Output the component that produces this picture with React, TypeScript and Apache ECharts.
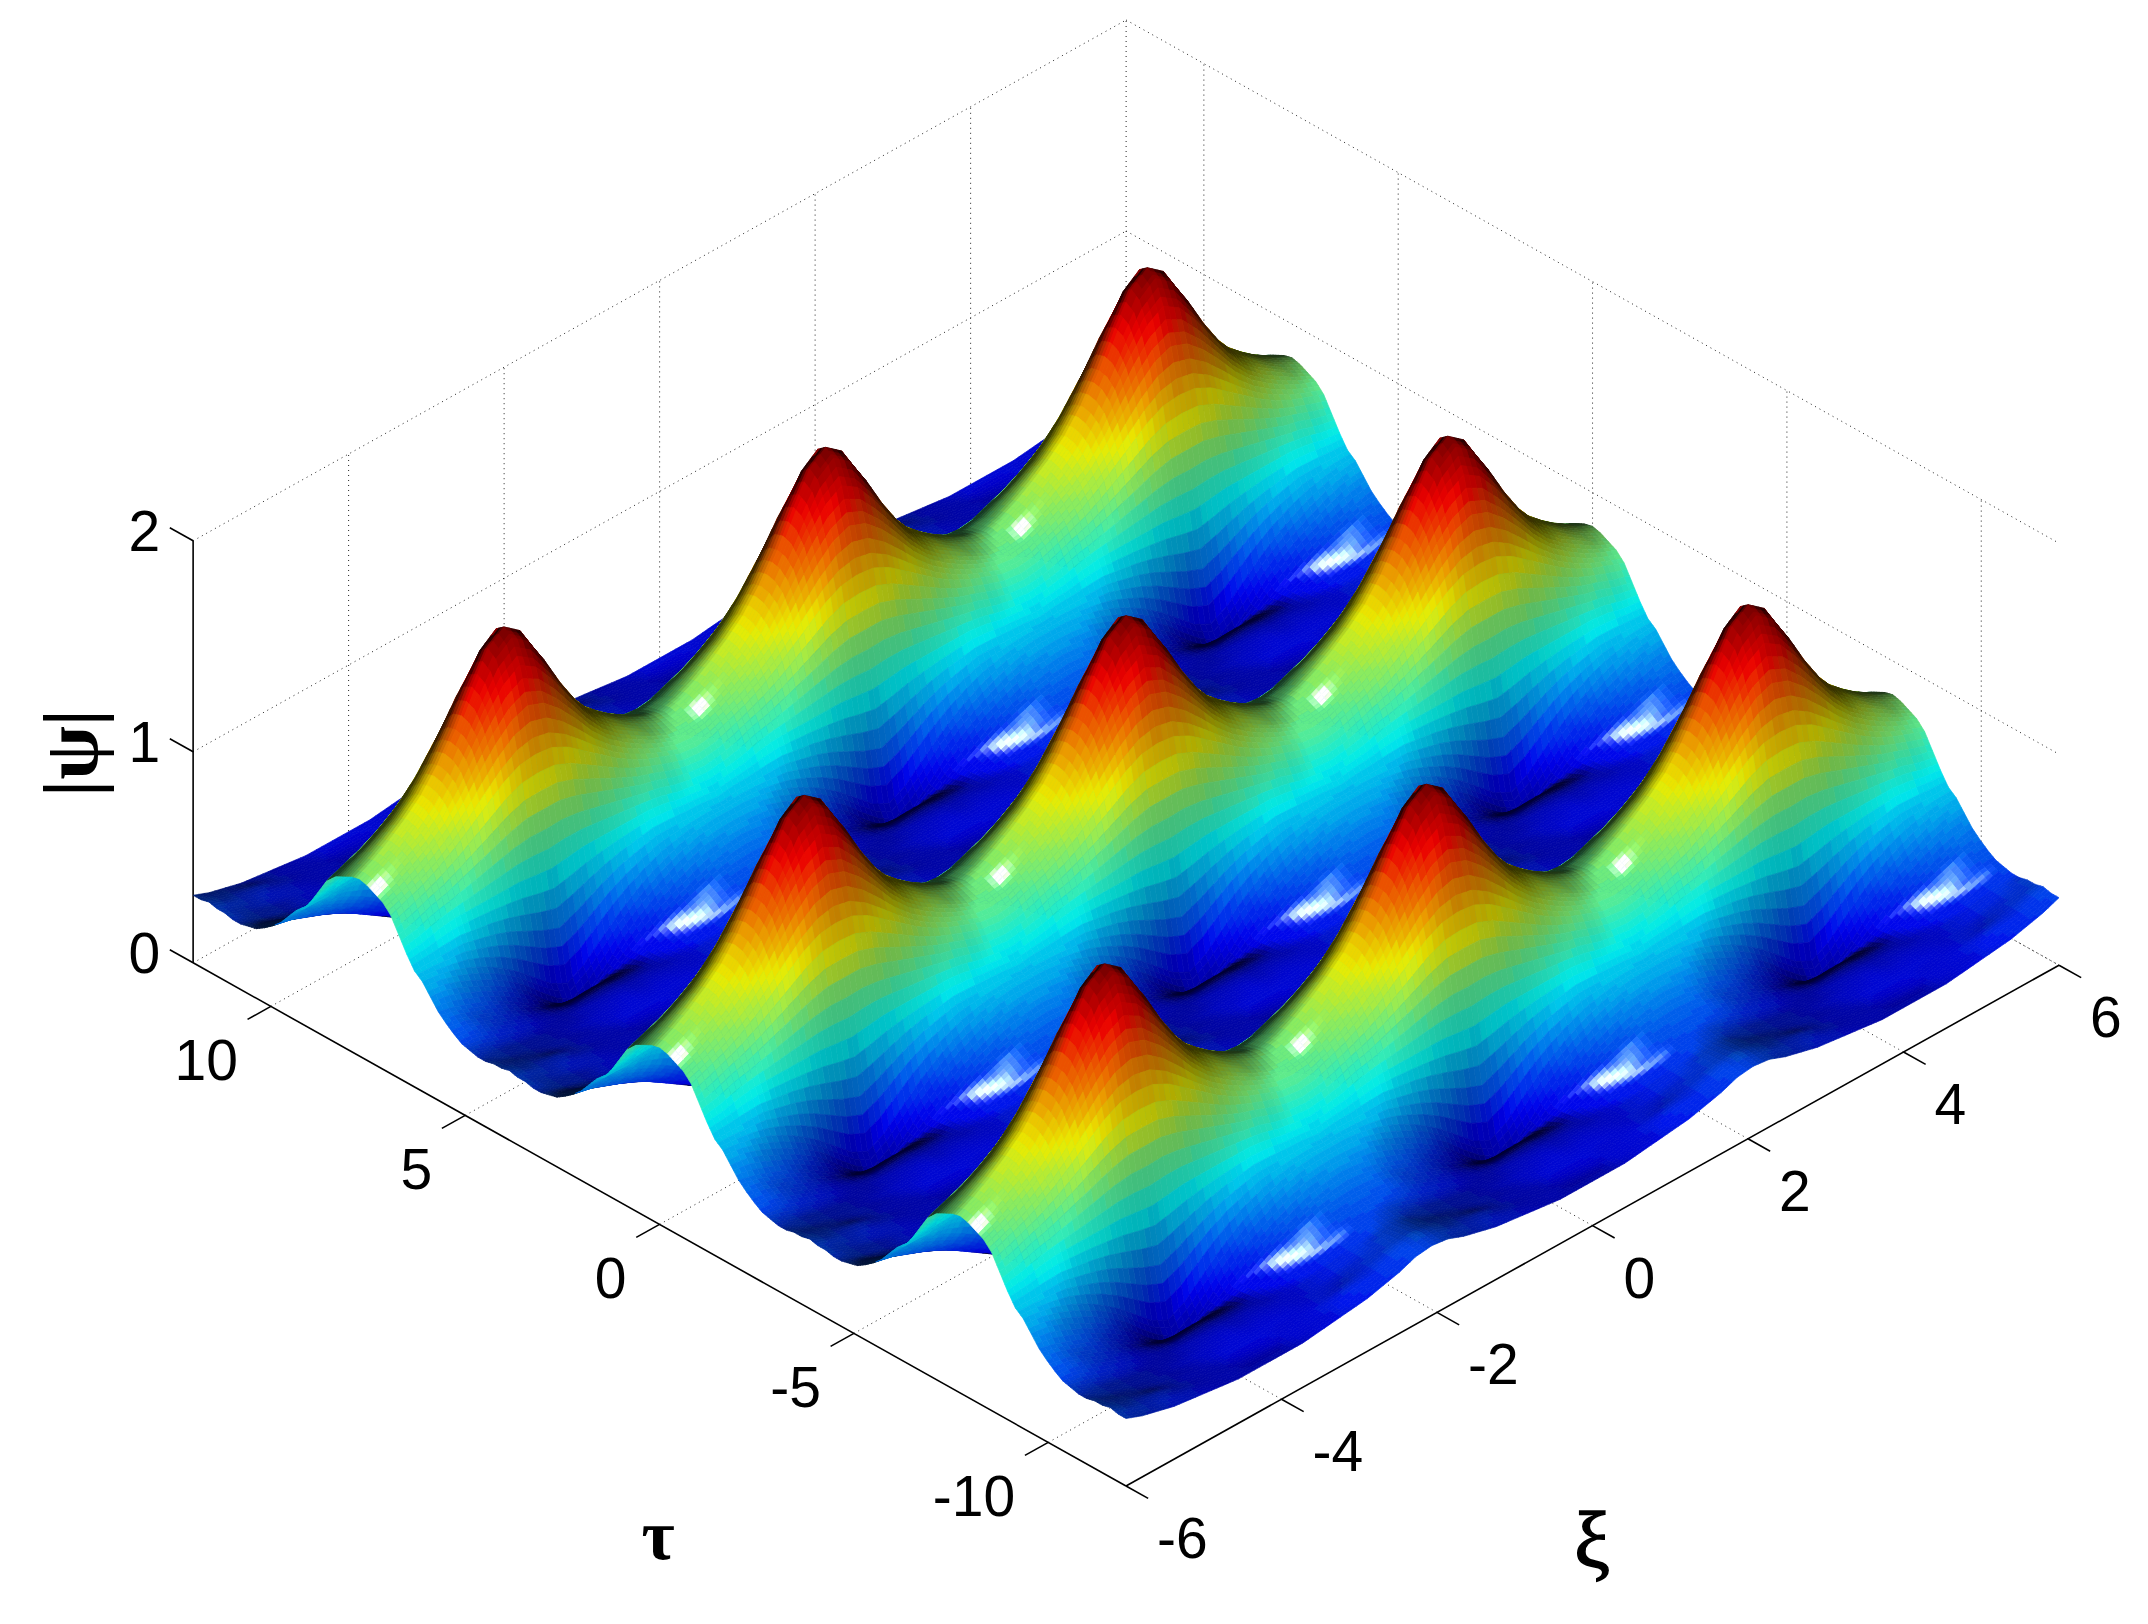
import React, { useEffect, useRef } from "react";
import * as echarts from "echarts";

// Tick labels
const xiTicks = [-6, -4, -2, 0, 2, 4, 6];
const tauTicks = [-10, -5, 0, 5, 10];
const zTicks = [0, 1, 2];

// Each row is one tau offset from a peak, columns are xi offsets from that peak.
const v00 = [1.65, 1.59, 1.45, 1.29, 1.16, 1.06, 0.99, 0.93, 0.88, 0.84, 0.82];
const v01 = [1.62, 1.56, 1.43, 1.28, 1.15, 1.05, 0.98, 0.92, 0.87, 0.83, 0.81];
const v02 = [1.51, 1.46, 1.36, 1.24, 1.12, 1.02, 0.95, 0.90, 0.85, 0.81, 0.80];
const v03 = [1.34, 1.31, 1.24, 1.15, 1.05, 0.97, 0.91, 0.86, 0.82, 0.79, 0.78];
const v04 = [1.13, 1.12, 1.08, 1.02, 0.96, 0.90, 0.85, 0.81, 0.78, 0.75, 0.74];
const v05 = [0.89, 0.89, 0.87, 0.84, 0.81, 0.78, 0.75, 0.73, 0.70, 0.68, 0.67];
const v06 = [0.63, 0.64, 0.65, 0.65, 0.65, 0.65, 0.65, 0.64, 0.62, 0.61, 0.60];
const v07 = [0.37, 0.40, 0.44, 0.48, 0.51, 0.53, 0.55, 0.55, 0.55, 0.55, 0.54];
const v08 = [0.13, 0.17, 0.24, 0.31, 0.37, 0.42, 0.46, 0.49, 0.51, 0.52, 0.52];
const v09 = [0.04, 0.09, 0.16, 0.24, 0.30, 0.35, 0.39, 0.43, 0.46, 0.47, 0.475];
const v10 = [0.12, 0.12, 0.15, 0.20, 0.25, 0.30, 0.34, 0.37, 0.40, 0.42, 0.43];
const v11 = [0.17, 0.165, 0.17, 0.20, 0.235, 0.275, 0.31, 0.34, 0.37, 0.385, 0.39];
const v12 = [0.20, 0.195, 0.195, 0.205, 0.225, 0.255, 0.285, 0.32, 0.345, 0.355, 0.36];
const v13 = [0.215, 0.21, 0.21, 0.21, 0.22, 0.24, 0.265, 0.29, 0.32, 0.33, 0.34];
const v14 = [0.22, 0.215, 0.215, 0.215, 0.22, 0.23, 0.25, 0.27, 0.295, 0.32, 0.33];
const v15 = [0.22, 0.215, 0.215, 0.22, 0.225, 0.235, 0.25, 0.27, 0.29, 0.31, 0.325];
const v16 = [0.215, 0.215, 0.215, 0.22, 0.225, 0.235, 0.25, 0.27, 0.29, 0.31, 0.325];
const v17 = [0.21, 0.21, 0.21, 0.22, 0.23, 0.24, 0.25, 0.27, 0.29, 0.32, 0.33];
const v18 = [0.205, 0.205, 0.21, 0.22, 0.23, 0.24, 0.26, 0.28, 0.30, 0.32, 0.335];
const v19 = [0.20, 0.20, 0.21, 0.22, 0.23, 0.25, 0.27, 0.28, 0.30, 0.33, 0.34];
const quarterCell = [v00, v01, v02, v03, v04, v05, v06, v07, v08, v09, v10, v11, v12, v13, v14, v15, v16, v17, v18, v19];

const KMAX = 29; // nodes either side of xi = 0
const JMAX = 59; // nodes either side of tau = 0
const DXI = 6 / KMAX;
const DTAU = 12 / JMAX;
const ZMAX = 1.65;
const SUB = 3;

const foldU = (k: number) => { const m = Math.abs(k) % 20; return m > 10 ? 20 - m : m; };
const foldV = (j: number) => { const m = Math.abs(j) % 38; return m > 19 ? 38 - m : m; };
const height = (k: number, j: number) => quarterCell[foldV(j)][foldU(k)];

const project = (xi: number, tau: number, z: number): number[] => [
  1126 + 77.75 * (xi + 6) - 38.87 * (tau + 12),
  1486 - 43.4 * (xi + 6) - 21.8 * (tau + 12) - 211 * z,
];

const norm = (v: number[]) => { const l = Math.hypot(v[0], v[1], v[2]); return [v[0] / l, v[1] / l, v[2] / l]; };
const dot = (a: number[], b: number[]) => a[0] * b[0] + a[1] * b[1] + a[2] * b[2];
const VIEW = norm([-0.586, -0.586, 0.559]);
const LIGHT = norm([-0.5, -0.55, 0.65]);
const HALF = norm([-0.30, -0.40, 0.866]);

const nodeNormal = (k: number, j: number) => {
  const zx = (height(k + 1, j) - height(k - 1, j)) / (2 * DXI);
  const zt = (height(k, j + 1) - height(k, j - 1)) / (2 * DTAU);
  return [-2.31 * zx, -4.63 * zt, 1];
};

const clamp = (x: number) => Math.max(0, Math.min(1, x));
const shade = (z: number, n: number[]) => {
  const level = Math.min(63, Math.floor((z / ZMAX) * 64));
  const t = (level + 0.5) / 64;
  const jet = [
    clamp(Math.min(4 * t - 1.5, -4 * t + 4.5)),
    clamp(Math.min(4 * t - 0.5, -4 * t + 3.5)),
    clamp(Math.min(4 * t + 0.5, -4 * t + 2.5)),
  ];
  const u = norm(n);
  const underside = dot(u, VIEW) < 0;
  const d = Math.max(0, dot(u, LIGHT));
  const s = underside ? 0 : Math.pow(Math.max(0, dot(u, HALF)), 320);
  const f = underside ? 0.85 : Math.max(0.22, Math.min(0.92, 1.5 * d - 0.25));
  const c = jet.map((v) => Math.round(255 * clamp(v * f + 1.0 * s)));
  return `rgb(${c[0]},${c[1]},${c[2]})`;
};

type Patch = { pts: number[][]; fill: string };
const patches: Patch[] = [];
for (let k = KMAX - 1; k >= -KMAX; k--) {
  for (let j = JMAX - 1; j >= -JMAX; j--) {
    const z00 = height(k, j), z10 = height(k + 1, j), z01 = height(k, j + 1), z11 = height(k + 1, j + 1);
    const n00 = nodeNormal(k, j), n10 = nodeNormal(k + 1, j), n01 = nodeNormal(k, j + 1), n11 = nodeNormal(k + 1, j + 1);
    const zAt = (a: number, b: number) => (1 - a) * (1 - b) * z00 + a * (1 - b) * z10 + (1 - a) * b * z01 + a * b * z11;
    const pt = (a: number, b: number) => project((k + a) * DXI, (j + b) * DTAU, zAt(a, b));
    for (let p = SUB - 1; p >= 0; p--) {
      for (let q = SUB - 1; q >= 0; q--) {
        const a0 = p / SUB, a1 = (p + 1) / SUB, b0 = q / SUB, b1 = (q + 1) / SUB;
        const am = (a0 + a1) / 2, bm = (b0 + b1) / 2;
        const n = [0, 1, 2].map((i) => (1 - am) * (1 - bm) * n00[i] + am * (1 - bm) * n10[i] + (1 - am) * bm * n01[i] + am * bm * n11[i]);
        patches.push({ pts: [pt(a0, b0), pt(a1, b0), pt(a1, b1), pt(a0, b1)], fill: shade(zAt(am, bm), n) });
      }
    }
  }
}

type Seg = { a: number[]; b: number[] };
const dotted: Seg[] = [];
const solid: Seg[] = [];
for (const x of xiTicks) {
  if (x > -6) dotted.push({ a: [x, -12, 0], b: [x, 12, 0] });
  if (x > -6) dotted.push({ a: [x, 12, 0], b: [x, 12, 2] });
  solid.push({ a: [x, -12, 0], b: [x, -12.57, 0] });
}
for (const t of tauTicks) {
  dotted.push({ a: [-6, t, 0], b: [6, t, 0] });
  dotted.push({ a: [6, t, 0], b: [6, t, 2] });
  solid.push({ a: [-6, t, 0], b: [-6.3, t, 0] });
}
for (const z of zTicks) {
  if (z > 0) {
    dotted.push({ a: [-6, 12, z], b: [6, 12, z] });
    dotted.push({ a: [6, 12, z], b: [6, -12, z] });
  }
  solid.push({ a: [-6, 12, z], b: [-6, 12.6, z] });
}
dotted.push({ a: [6, 12, 0], b: [6, -12, 0] });
dotted.push({ a: [-6, 12, 0], b: [6, 12, 0] });
solid.push({ a: [-6, -12, 0], b: [6, -12, 0] });
solid.push({ a: [-6, -12, 0], b: [-6, 12, 0] });
solid.push({ a: [-6, 12, 0], b: [-6, 12, 2] });

const NUM_FONT = '57px "Liberation Sans", Arial, sans-serif';
type Lab = { text: string; x: number; y: number; align: string; font: string; rot?: number; heavy?: number };
const labels: Lab[] = [];
for (const x of xiTicks) { const p = project(x, -12, 0); labels.push({ text: String(x), x: p[0] + 31, y: p[1] + 52, align: "left", font: NUM_FONT }); }
for (const t of tauTicks) { const p = project(-6, t, 0); labels.push({ text: String(t), x: p[0] - 33, y: p[1] + 54, align: "right", font: NUM_FONT }); }
for (const z of zTicks) { const p = project(-6, 12, z); labels.push({ text: String(z), x: p[0] - 33, y: p[1] - 10, align: "right", font: NUM_FONT }); }
labels.push({ text: "τ", x: 658, y: 1535, align: "center", font: 'bold 72px "Liberation Serif", serif' });
labels.push({ text: "ξ", x: 1592, y: 1541, align: "center", font: '80px "Liberation Serif", serif', heavy: 1.6 });
labels.push({ text: "|ψ|", x: 70, y: 753, align: "center", font: 'bold 78px "Liberation Serif", serif', rot: Math.PI / 2 });

const segSeries = (segs: Seg[], style: any, z: number) => ({
  type: "custom" as const,
  coordinateSystem: "cartesian2d",
  silent: true,
  z,
  clip: false,
  progressive: 0,
  data: segs.map((_, i) => [i, 0]),
  renderItem: (params: any, api: any) => {
    const s = segs[params.dataIndex];
    const p = api.coord(project(s.a[0], s.a[1], s.a[2]));
    const q = api.coord(project(s.b[0], s.b[1], s.b[2]));
    return { type: "line", shape: { x1: p[0], y1: p[1], x2: q[0], y2: q[1] }, style };
  },
});

export default function App() {
  const ref = useRef<HTMLDivElement>(null);
  useEffect(() => {
    document.body.style.margin = "0";
    const chart = echarts.init(ref.current!, undefined, { renderer: "svg" });
    chart.setOption({
      animation: false,
      backgroundColor: "#fff",
      grid: { left: 0, right: 0, top: 0, bottom: 0 },
      xAxis: { type: "value", min: 0, max: 2148, show: false },
      yAxis: { type: "value", min: 0, max: 1624, inverse: true, show: false },
      series: [
        segSeries(dotted, { stroke: "#222", lineWidth: 1, lineDash: [1, 4], fill: null }, 1),
        segSeries(solid, { stroke: "#000", lineWidth: 1.6, fill: null }, 2),
        {
          type: "custom",
          coordinateSystem: "cartesian2d",
          silent: true,
          z: 3,
          clip: false,
          progressive: 0,
          data: patches.map((_, i) => [i, 0]),
          renderItem: (params: any, api: any) => {
            const c = patches[params.dataIndex];
            return {
              type: "polygon",
              shape: { points: c.pts.map((p) => api.coord(p)) },
              style: { fill: c.fill, stroke: c.fill, lineWidth: 0.7 },
            };
          },
        },
        {
          type: "custom",
          coordinateSystem: "cartesian2d",
          silent: true,
          z: 4,
          clip: false,
          data: labels.map((_, i) => [i, 0]),
          renderItem: (params: any, api: any) => {
            const l = labels[params.dataIndex];
            const p = api.coord([l.x, l.y]);
            return {
              type: "text",
              x: p[0],
              y: p[1],
              rotation: l.rot || 0,
              style: {
                text: l.text,
                font: l.font,
                fill: "#000",
                stroke: l.heavy ? "#000" : undefined,
                lineWidth: l.heavy || 0,
                textAlign: l.align,
                textVerticalAlign: "middle",
              },
            };
          },
        },
      ],
    });
    return () => chart.dispose();
  }, []);
  return <div ref={ref} style={{ width: 2148, height: 1624 }} />;
}
